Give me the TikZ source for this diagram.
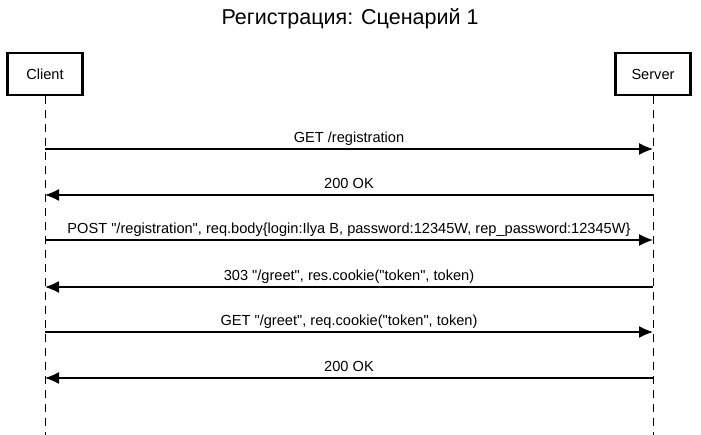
\documentclass[tikz,border=0pt]{standalone}
\usepackage{fontspec}
\newfontfamily\diagfont{Liberation Sans}
\usetikzlibrary{arrows.meta,positioning}

\begin{document}
\begin{tikzpicture}[x=1pt,y=-1pt,>={Latex[length=14pt,width=12pt]}]
	\tikzset{actor/.style={draw, line width=2.5pt, rectangle, align=center, minimum width=75pt, minimum height=42pt, font=\diagfont\fontsize{14.6}{17}\selectfont},
		lifeline/.style={line width=1pt, dash pattern=on 8pt off 6pt},
		msg/.style={->, line width=1.2pt},
		msglabel/.style={font=\diagfont\fontsize{14.6}{17}\selectfont, text height=11pt, text depth=3pt, inner sep=0pt, above=3pt}
	}
	\useasboundingbox (0,0) rectangle (701,435);

	\node [font=\diagfont\fontsize{21.5}{25}\selectfont] (title) at (350,19) {Регистрация: Сценарий 1};

	\node [actor] (client) at (45,74) {Client};
	\node [actor] (server) at (653,74) {Server};
	\coordinate (cend) at (45,435);
	\coordinate (send) at (653,435);
	\draw [lifeline] (client.south) -- (cend);
	\draw [lifeline] (server.south) -- (send);

	% messages
	\coordinate (c1) at (45,149); \coordinate (s1) at (653,149);
	\coordinate (c2) at (45,195); \coordinate (s2) at (653,195);
	\coordinate (c3) at (45,240); \coordinate (s3) at (653,240);
	\coordinate (c4) at (45,287); \coordinate (s4) at (653,287);
	\coordinate (c5) at (45,332); \coordinate (s5) at (653,332);
	\coordinate (c6) at (45,378); \coordinate (s6) at (653,378);

	\draw [msg] (c1) -- node [msglabel] (m1) {GET /registration} (s1);
	\draw [msg] (s2) -- node [msglabel] (m2) {200 OK} (c2);
	\draw [msg] (c3) -- node [msglabel] (m3) {POST "/registration", req.body\{login:Ilya B, password:12345W, rep\_password:12345W\}} (s3);
	\draw [msg] (s4) -- node [msglabel] (m4) {303 "/greet", res.cookie("token", token)} (c4);
	\draw [msg] (c5) -- node [msglabel] (m5) {GET "/greet", req.cookie("token", token)} (s5);
	\draw [msg] (s6) -- node [msglabel] (m6) {200 OK} (c6);
\end{tikzpicture}
\end{document}
